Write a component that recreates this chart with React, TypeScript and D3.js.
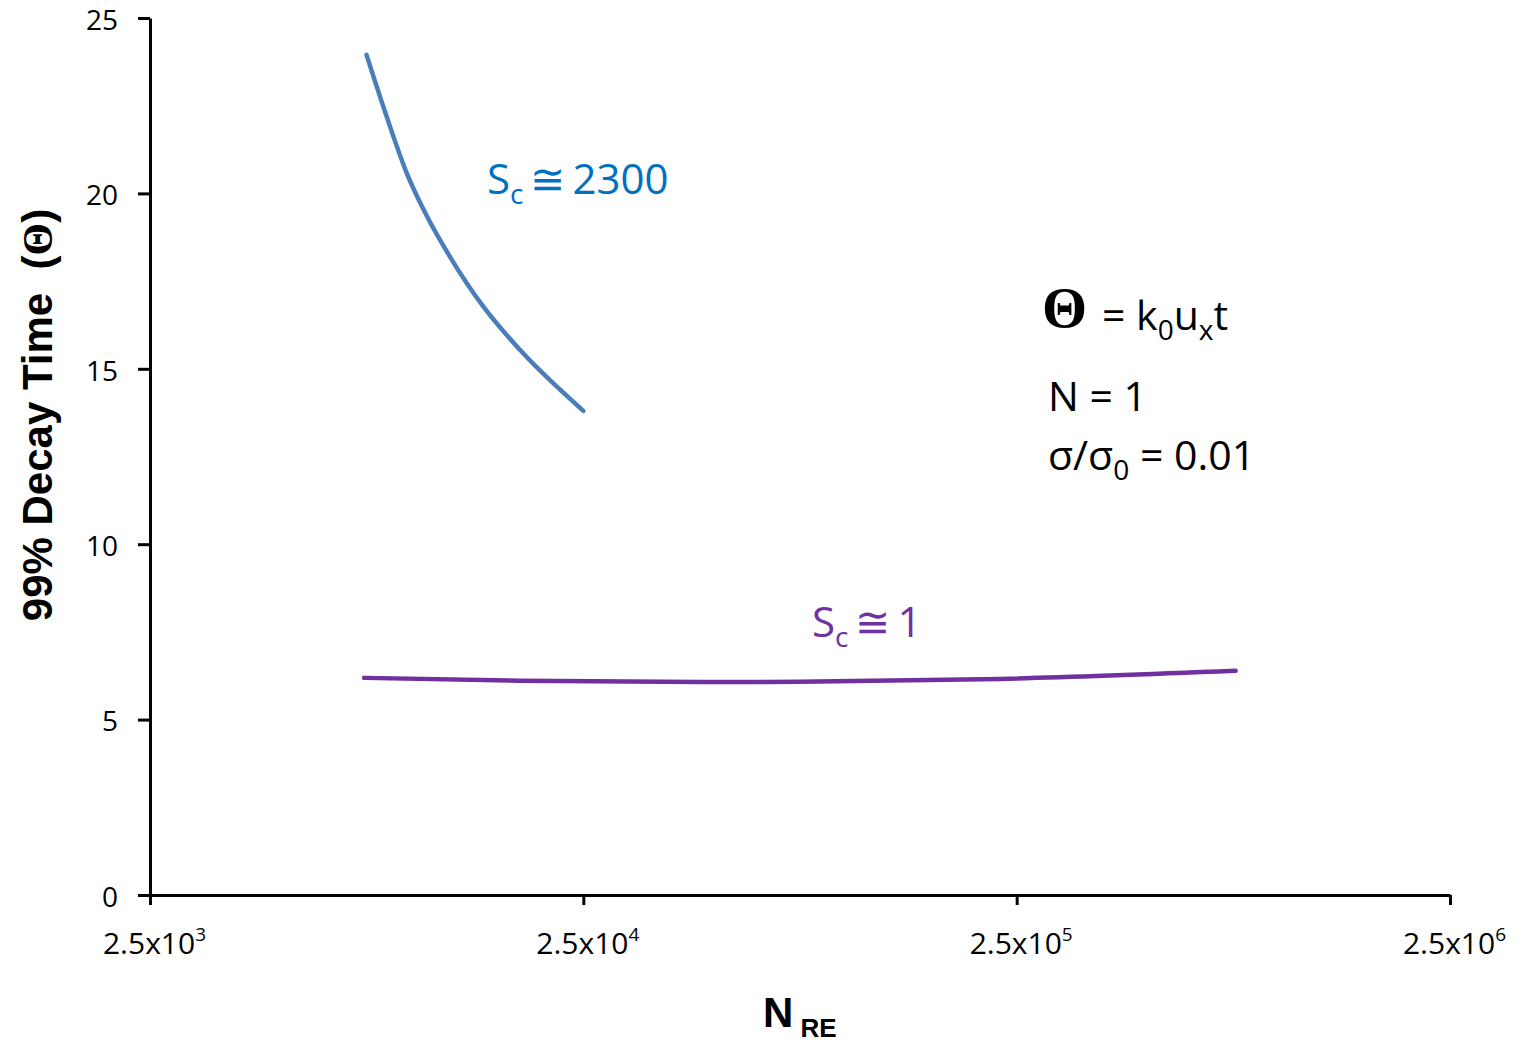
import React, { useEffect, useRef } from "react";
import * as d3 from "d3";

// Reynolds number (x) and 99% decay time (y)
const sc2300Re = [7900, 8640, 9780, 10900, 12300, 14700, 17850, 25000];
const sc2300Theta = [23.95, 22.47, 20.58, 19.34, 18.2, 16.77, 15.54, 13.8];

const sc1Re = [7800, 17850, 46500, 79000, 229000, 800000];
const sc1Theta = [6.19, 6.11, 6.07, 6.08, 6.16, 6.39];

const xTickValues = [2500, 25000, 250000, 2500000];
const xTickExp = ["3", "4", "5", "6"];
const yTickValues = [0, 5, 10, 15, 20, 25];

const W = 1519;
const H = 1042;
const margin = { top: 18, right: 69, bottom: 147, left: 150 };

const TICK_FONT = "'Open Sans', 'Noto Sans', sans-serif";

export default function App() {
  const svgRef = useRef<SVGSVGElement>(null);

  const x = d3
    .scaleLog()
    .domain([2500, 2500000])
    .range([margin.left, W - margin.right]);
  const y = d3
    .scaleLinear()
    .domain([0, 25])
    .range([H - margin.bottom, margin.top]);

  const line = d3
    .line<[number, number]>()
    .x((d) => x(d[0]))
    .y((d) => y(d[1]))
    .curve(d3.curveMonotoneX);

  const blue = line(sc2300Re.map((r, i) => [r, sc2300Theta[i]])) || "";
  const purple = line(sc1Re.map((r, i) => [r, sc1Theta[i]])) || "";

  useEffect(() => {
    const svg = d3.select(svgRef.current);
    svg.selectAll("g.axis").remove();

    // Y axis
    const gy = svg
      .append("g")
      .attr("class", "axis")
      .attr("transform", `translate(${margin.left}, 0)`)
      .call(
        d3
          .axisLeft(y)
          .tickValues(yTickValues)
          .tickSize(12)
          .tickSizeOuter(0)
          .tickPadding(20)
      );
    gy.select(".domain").attr("stroke-width", 3);
    gy.selectAll(".tick line").attr("stroke-width", 3);
    gy.selectAll(".tick text")
      .attr("font-family", TICK_FONT)
      .attr("font-size", 28)
      .attr("dy", "0.4em")
      .attr("fill", "#000");

    // X axis
    const gx = svg
      .append("g")
      .attr("class", "axis")
      .attr("transform", `translate(0, ${H - margin.bottom})`)
      .call(
        d3
          .axisBottom(x)
          .tickValues(xTickValues)
          .tickSize(10)
          .tickSizeOuter(0)
          .tickFormat(() => "")
      );
    gx.select(".domain").attr("stroke-width", 3);
    gx.selectAll(".tick line").attr("stroke-width", 3);
    gx.selectAll(".tick text").remove();

    gx.selectAll(".tick").each(function (_, i) {
      const t = d3
        .select(this)
        .append("text")
        .attr("x", 4)
        .attr("y", 59)
        .attr("text-anchor", "middle")
        .attr("font-family", TICK_FONT)
        .attr("font-size", 30)
        .attr("fill", "#000");
      t.append("tspan").text("2.5x10");
      t.append("tspan")
        .attr("dy", -13)
        .attr("font-size", 19)
        .text(xTickExp[i]);
    });
  }, []);

  return (
    <svg
      ref={svgRef}
      width={W}
      height={H}
      style={{ position: "absolute", left: 0, top: 0, background: "#fff" }}
    >
      <path d={blue} fill="none" stroke="#4a7ebb" strokeWidth={4.5} strokeLinecap="round" />
      <path d={purple} fill="none" stroke="#7030a0" strokeWidth={4.5} strokeLinecap="round" />

      {/* series annotations */}
      <text x={487} y={194} fontFamily={TICK_FONT} fontSize={42} fill="#0070c0">
        S<tspan fontSize={28} dy={10}>c</tspan>
        <tspan dy={-10}>{"\u2009"}≅{"\u2009"}2300</tspan>
      </text>
      <text x={812} y={637} fontFamily={TICK_FONT} fontSize={42} fill="#7030a0">
        S<tspan fontSize={28} dy={10}>c</tspan>
        <tspan dy={-10}>{"\u2009"}≅{"\u2009"}1</tspan>
      </text>

      {/* parameter box */}
      <text x={1042} y={327} fontFamily="'Liberation Serif', serif" fontWeight="bold" fontSize={58}>
        Θ
      </text>
      <text x={1102} y={330} fontFamily={TICK_FONT} fontSize={41}>
        = k<tspan fontSize={28} dy={10}>0</tspan>
        <tspan dy={-10}>u</tspan>
        <tspan fontSize={28} dy={10}>x</tspan>
        <tspan dy={-10}>t</tspan>
      </text>
      <text x={1048} y={411} fontFamily={TICK_FONT} fontSize={41}>
        N = 1
      </text>
      <text x={1048} y={470} fontFamily={TICK_FONT} fontSize={41}>
        σ/σ<tspan fontSize={28} dy={10}>0</tspan>
        <tspan dy={-10}> = 0.01</tspan>
      </text>

      {/* axis titles */}
      <text
        transform="translate(52, 415) rotate(-90)"
        textAnchor="middle"
        fontFamily="'Liberation Sans', Arial, sans-serif"
        fontWeight="bold"
        fontSize={42}
      >
        99% Decay Time{"\u00a0\u00a0"}(<tspan fontFamily="'Liberation Serif', serif">Θ</tspan>)
      </text>
      <text
        x={763}
        y={1027}
        fontFamily="'Liberation Sans', Arial, sans-serif"
        fontWeight="bold"
        fontSize={42}
      >
        N<tspan fontSize={26} dy={10}>{"\u00a0"}RE</tspan>
      </text>
    </svg>
  );
}
